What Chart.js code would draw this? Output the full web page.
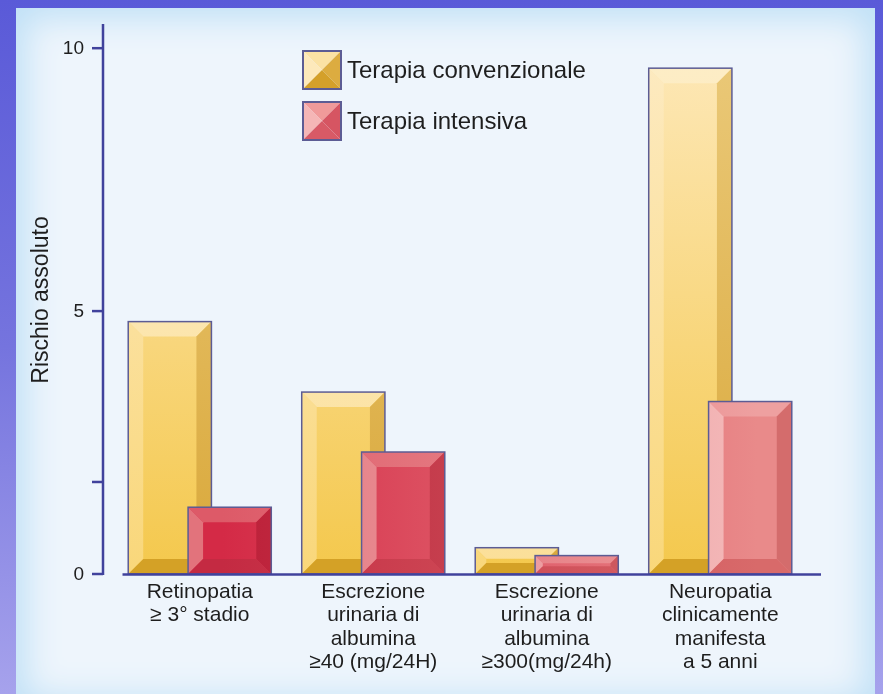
<!DOCTYPE html>
<html lang="it">
<head>
<meta charset="utf-8">
<title>Rischio assoluto</title>
<script src="https://cdn.jsdelivr.net/npm/chart.js@4.4.1/dist/chart.umd.min.js"></script>
<style>
    html, body { margin: 0; padding: 0; }
    body {
        width: 883px; height: 694px; overflow: hidden; position: relative;
        background: linear-gradient(180deg, #5a5ad8 0%, #7574de 50%, #a6a2ec 100%);
    }
    .panel {
        position: absolute; left: 16px; top: 8px; width: 859px; height: 700px;
        background: #eef5fc;
        box-shadow: inset 0 0 34px 10px #bfe0f6;
    }
    .wrap { position: absolute; left: 0; top: 0; width: 883px; height: 694px; }
</style>
</head>
<body>
<div class="panel"></div>
<div class="wrap"><canvas id="chart"></canvas></div>
<script>
    const categories = [
        ['Retinopatia', '≥ 3° stadio'],
        ['Escrezione', 'urinaria di', 'albumina', '≥40 (mg/24H)'],
        ['Escrezione', 'urinaria di', 'albumina', '≥300(mg/24h)'],
        ['Neuropatia', 'clinicamente', 'manifesta', 'a 5 anni']
    ];
    const seriesNames = ['Terapia convenzionale', 'Terapia intensiva'];
    const convenzionale = [4.8, 3.46, 0.5, 9.62];
    const intensiva = [1.27, 2.32, 0.35, 3.28];
    const yTicks = [0, 1.75, 5, 10];
    const yTickLabels = ['0', '', '5', '10'];
    const yTitle = 'Rischio assoluto';

    const FONT = '"Liberation Sans", Arial, sans-serif';
    const AXIS = '#40429c';
    const INK = '#1e1e1e';
    const OUTLINE = '#5c5c94';

    // gradients are built once per chart area
    let grads = null;
    function buildGrads(ctx, ca) {
        const v = (c0, c1) => {
            const g = ctx.createLinearGradient(0, ca.top + 40, 0, ca.bottom);
            g.addColorStop(0, c0); g.addColorStop(1, c1); return g;
        };
        const h = (c0, c1) => {
            const g = ctx.createLinearGradient(ca.left + 110, 0, ca.right - 50, 0);
            g.addColorStop(0, c0); g.addColorStop(1, c1); return g;
        };
        return {
            gold: {
                face: v('#fde7b5', '#f4c84c'),
                top: v('#fdedc6', '#fbdf98'),
                left: v('#fdeac0', '#f9d77a'),
                right: v('#eac877', '#d9a83a'),
                bottom: '#d4a126'
            },
            red: {
                face: h('#d42a46', '#e98a8a'),
                top: h('#dd5a68', '#eea0a0'),
                left: h('#e2737c', '#f4baba'),
                right: h('#bc1e38', '#d46c6c'),
                bottom: h('#c42a42', '#d86a6a')
            }
        };
    }
    function getGrads(chart) {
        const ca = chart.chartArea;
        const key = ca.top + ':' + ca.bottom + ':' + ca.left + ':' + ca.right;
        if (!grads || grads.key !== key) {
            grads = buildGrads(chart.ctx, ca);
            grads.key = key;
        }
        return grads;
    }

    function bevel(ctx, l, t, r, b, d, f) {
        const poly = (pts, fill) => {
            ctx.beginPath();
            ctx.moveTo(pts[0][0], pts[0][1]);
            for (let i = 1; i < pts.length; i++) ctx.lineTo(pts[i][0], pts[i][1]);
            ctx.closePath();
            ctx.fillStyle = fill;
            ctx.fill();
        };
        poly([[l, t], [r, t], [r - d, t + d], [l + d, t + d]], f.top);
        poly([[l, t], [l + d, t + d], [l + d, b - d], [l, b]], f.left);
        poly([[r, t], [r, b], [r - d, b - d], [r - d, t + d]], f.right);
        poly([[l, b], [r, b], [r - d, b - d], [l + d, b - d]], f.bottom);
    }

    // bars are repainted in dataset order so the intensive series sits in front
    const bevelBars = {
        id: 'bevelBars',
        afterDatasetsDraw(chart) {
            const ctx = chart.ctx;
            const g = getGrads(chart);
            ctx.save();
            chart.data.datasets.forEach((ds, i) => {
                const pal = i === 0 ? g.gold : g.red;
                chart.getDatasetMeta(i).data.forEach((el) => {
                    const p = el.getProps(['x', 'y', 'base', 'width'], true);
                    const l = p.x - p.width / 2, r = p.x + p.width / 2;
                    const t = Math.min(p.y, p.base), b = Math.max(p.y, p.base);
                    const d = Math.min(15, (b - t) * 0.42, p.width * 0.2);
                    ctx.fillStyle = pal.face;
                    ctx.fillRect(l, t, r - l, b - t);
                    bevel(ctx, l, t, r, b, d, pal);
                    ctx.strokeStyle = OUTLINE;
                    ctx.lineWidth = 1.5;
                    ctx.strokeRect(l, t, r - l, b - t);
                });
            });
            ctx.restore();
        },
        afterDraw(chart) {
            const ctx = chart.ctx;
            const ca = chart.chartArea;
            const y = chart.scales.y;
            const ax = ca.left - 10;
            ctx.save();

            // y axis with its ticks
            ctx.strokeStyle = AXIS;
            ctx.lineWidth = 2.5;
            ctx.beginPath();
            ctx.moveTo(ax, ca.top);
            ctx.lineTo(ax, ca.bottom + 1);
            ctx.stroke();
            ctx.font = '19px ' + FONT;
            ctx.fillStyle = INK;
            ctx.textAlign = 'right';
            ctx.textBaseline = 'middle';
            yTicks.forEach((v, i) => {
                const py = y.getPixelForValue(v);
                ctx.beginPath();
                ctx.moveTo(ax - 11, py);
                ctx.lineTo(ax, py);
                ctx.stroke();
                if (yTickLabels[i]) ctx.fillText(yTickLabels[i], ax - 19, py + 1);
            });

            // baseline
            ctx.beginPath();
            ctx.moveTo(ca.left + 9.5, ca.bottom + 0.5);
            ctx.lineTo(ca.right + 14, ca.bottom + 0.5);
            ctx.stroke();

            // axis title
            ctx.save();
            ctx.translate(42, (ca.top + ca.bottom) / 2 + 1);
            ctx.rotate(-Math.PI / 2);
            ctx.textAlign = 'center';
            ctx.font = '23px ' + FONT;
            ctx.fillText(yTitle, 0, 0);
            ctx.restore();

            // legend
            const boxes = [
                { top: '#fbe2a4', left: '#fde9bb', right: '#dcac40', bottom: '#d4a02a' },
                { top: '#f09a9a', left: '#f5b6b6', right: '#d65562', bottom: '#d85a66' }
            ];
            const lx = 303, ly = 51, size = 38, gap = 51;
            ctx.font = '24px ' + FONT;
            ctx.textAlign = 'left';
            chart.data.datasets.forEach((ds, i) => {
                const top = ly + i * gap;
                bevel(ctx, lx, top, lx + size, top + size, size / 2, boxes[i]);
                ctx.strokeStyle = OUTLINE;
                ctx.lineWidth = 2;
                ctx.strokeRect(lx, top, size, size);
                ctx.fillStyle = INK;
                ctx.fillText(ds.label, lx + 44, top + size / 2 + 1);
            });
            ctx.restore();
        }
    };

    new Chart(document.getElementById('chart'), {
        type: 'bar',
        data: {
            labels: categories,
            datasets: [
                {
                    label: seriesNames[0],
                    data: convenzionale,
                    backgroundColor: (c) => c.chart.chartArea ? getGrads(c.chart).gold.face : '#f6cf5e',
                    borderWidth: 0
                },
                {
                    label: seriesNames[1],
                    data: intensiva,
                    backgroundColor: (c) => c.chart.chartArea ? getGrads(c.chart).red.face : '#d94e58',
                    borderWidth: 0
                }
            ]
        },
        options: {
            responsive: true,
            maintainAspectRatio: false,
            animation: false,
            layout: { padding: { left: 113, right: 76, top: 24, bottom: 10 } },
            datasets: { bar: { categoryPercentage: 0.69, barPercentage: 1.39 } },
            plugins: { legend: { display: false }, tooltip: { enabled: false } },
            scales: {
                x: {
                    grid: { display: false, drawTicks: false },
                    border: { display: false },
                    ticks: {
                        font: { family: FONT, size: 21, lineHeight: 1.1 },
                        color: INK,
                        padding: 7,
                        maxRotation: 0,
                        autoSkip: false
                    },
                    afterFit: (s) => { s.height = 110; }
                },
                y: { display: false, min: 0, max: 10.46 }
            }
        },
        plugins: [bevelBars]
    });
</script>
</body>
</html>
